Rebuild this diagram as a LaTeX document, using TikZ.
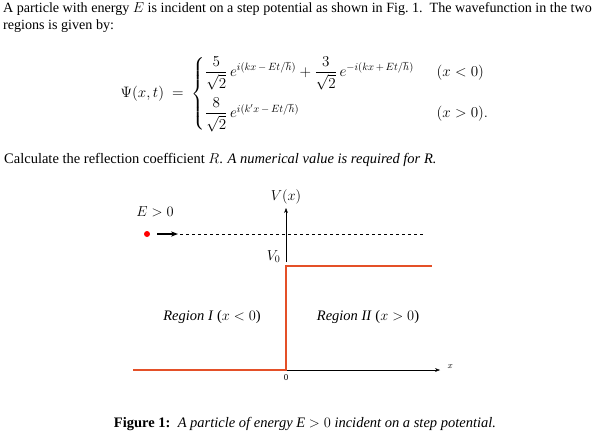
\documentclass[tikz,border=0pt]{standalone}
\usepackage{amsmath}
\usepackage{fontspec}
\setmainfont{Liberation Serif}
\usepackage{tikz}
\usetikzlibrary{positioning, arrows.meta}
\definecolor{stepred}{RGB}{228,80,40}

\begin{document}
\begin{tikzpicture}[x=1pt, y=-1pt, font=\fontsize{14.5}{17}\selectfont,
  potline/.style={draw=stepred, line width=1.5pt},
  axisline/.style={draw=black, -{Stealth[length=5pt]}}]

\useasboundingbox (0,0) rectangle (609,440);

\node[anchor=north west, align=left, inner sep=0pt, font=\fontsize{14.1}{17}\selectfont] (intro) at (3,2) {A particle with energy $E$ is incident on a step potential as shown in Fig.~1.\ \ The wavefunction in the two\\ regions is given by:};

\node[scale=1.05] (psi) at (305,94) {$\Psi(x,t)\ =\ \begin{cases} \dfrac{5}{\sqrt{2}}\,e^{i(kx\,-\,Et/\hbar)} + \dfrac{3}{\sqrt{2}}\,e^{-i(kx\,+\,Et/\hbar)} & \ \ (x<0)\\[14pt] \dfrac{8}{\sqrt{2}}\,e^{i(k'x\,-\,Et/\hbar)} & \ \ (x>0). \end{cases}$};

\node[anchor=west, inner sep=0pt] (calc) at (4,160) {Calculate the reflection coefficient $R$. \textit{A numerical value is required for R.}};

% potential step
\coordinate (orig) at (286,370);
\coordinate (step) at (286,266);
\draw[axisline] (286,262) -- (286,208) coordinate (vtop);
\node[above=0pt of vtop] (vlabel) {$V(x)$};
\draw[axisline] (orig) -- (440,370) coordinate (xend);
\node[above right=-2pt and 4pt of xend] (xlabel) {\small$x$};
\draw[potline] (133,370) -- (orig) -- (step) -- (432,266);
\node[below=1pt of orig] (zero) {\small 0};
\node[above left=0pt and 2pt of step] (vzero) {$V_0$};

% incident particle
\fill[red] (147,234) circle (3pt) coordinate (dot);
\draw[-{Stealth[length=7pt]}, line width=2pt] (157,234) -- (178,234);
\draw[dashed, line width=0.8pt] (180,234) -- (425,234);
\node (energy) at (155,212) {$E>0$};

\node (reg1) at (212,317) {\textit{Region I} ($x<0$)};
\node (reg2) at (368,317) {\textit{Region II} ($x>0$)};

\node (caption) at (305,424) {\textbf{Figure 1:}\ \ \textit{A particle of energy E} $>0$ \textit{incident on a step potential.}};

\end{tikzpicture}
\end{document}
